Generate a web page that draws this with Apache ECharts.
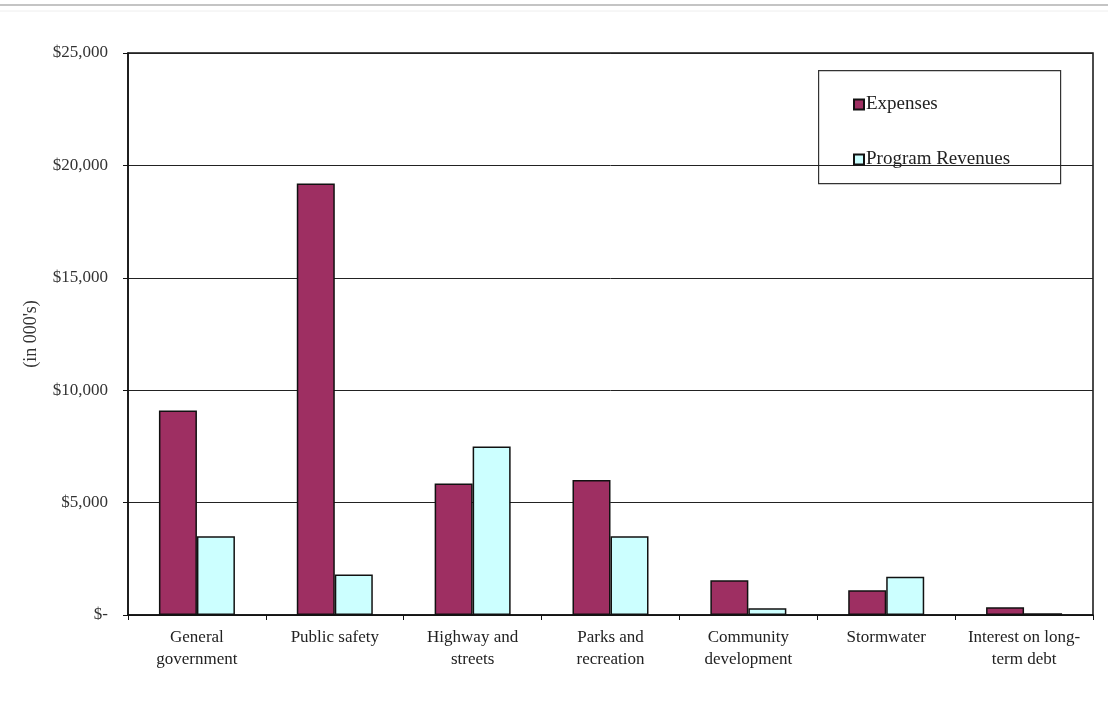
<!DOCTYPE html>
<html>
<head>
<meta charset="utf-8">
<script src="https://cdn.jsdelivr.net/npm/echarts@6/dist/echarts.min.js"></script>
<style>
  html, body { margin: 0; padding: 0; background: #fff; }
  #chart { width: 1108px; height: 708px; }
</style>
</head>
<body>
<div id="chart"></div>
<script>
// Program categories (line breaks as printed under the axis)
const categories = [
  'General\ngovernment',
  'Public safety',
  'Highway and\nstreets',
  'Parks and\nrecreation',
  'Community\ndevelopment',
  'Stormwater',
  'Interest on long-\nterm debt'
];
// Amounts in thousands of dollars
const expenses = [9100, 19200, 5850, 6000, 1550, 1100, 350];
const programRevenues = [3500, 1800, 7500, 3500, 300, 1700, 80];
const yTicks = [0, 5000, 10000, 15000, 20000, 25000];

const serif = '"Liberation Serif", "DejaVu Serif", serif';

const chart = echarts.init(document.getElementById('chart'));
chart.setOption({
  backgroundColor: '#ffffff',
  animation: false,
  textStyle: { fontFamily: serif },
  grid: {
    left: 128, right: 15, top: 53, bottom: 93,
    show: true, borderColor: '#111', borderWidth: 1.5, backgroundColor: 'transparent'
  },
  legend: {
    left: 848, top: 90,
    orient: 'vertical',
    itemWidth: 10, itemHeight: 10, itemGap: 36,
    icon: 'rect',
    textStyle: { fontFamily: serif, fontSize: 19, color: '#222', padding: [0, 0, 0, -3] },
    data: ['Expenses', 'Program Revenues']
  },
  xAxis: {
    type: 'category',
    data: categories,
    axisLine: { lineStyle: { color: '#111', width: 1.5 } },
    axisTick: { show: true, length: 5, lineStyle: { color: '#111' } },
    axisLabel: {
      fontFamily: serif, fontSize: 17, color: '#222', margin: 12, lineHeight: 22, interval: 0
    }
  },
  yAxis: {
    type: 'value',
    min: 0, max: 25000, interval: 5000,
    name: "(in 000's)",
    nameLocation: 'middle',
    nameRotate: 90,
    nameGap: 88,
    nameTextStyle: { fontFamily: serif, fontSize: 18, color: '#333' },
    axisLine: { show: true, lineStyle: { color: '#111', width: 1.5 } },
    axisTick: { show: true, length: 5, lineStyle: { color: '#111' } },
    splitLine: { show: true, lineStyle: { color: '#222', width: 1 } },
    axisLabel: {
      fontFamily: serif, fontSize: 17, color: '#333', margin: 20,
      formatter: v => yTicks.includes(v) ? (v === 0 ? '$-' : '$' + v.toLocaleString('en-US')) : ''
    }
  },
  series: [
    {
      name: 'Expenses',
      type: 'bar',
      data: expenses,
      barWidth: 38,
      barGap: '0%',
      itemStyle: { color: '#9e2f62', borderColor: '#111', borderWidth: 1.5 }
    },
    {
      name: 'Program Revenues',
      type: 'bar',
      data: programRevenues,
      barWidth: 38,
      itemStyle: { color: '#ccffff', borderColor: '#111', borderWidth: 1.5 }
    }
  ],
  graphic: [
    // thin rule across the top of the page
    { type: 'line', shape: { x1: 0, y1: 5, x2: 1108, y2: 5 }, style: { stroke: '#c4c4c4', lineWidth: 2 } },
    { type: 'line', shape: { x1: 0, y1: 11, x2: 1108, y2: 11 }, style: { stroke: '#eeeeee', lineWidth: 1 } },
    // legend frame
    {
      type: 'rect', left: 818, top: 70, z: -1,
      shape: { width: 242, height: 113 },
      style: { fill: '#ffffff', stroke: '#333', lineWidth: 1.2 }
    }
  ]
});
</script>
</body>
</html>
